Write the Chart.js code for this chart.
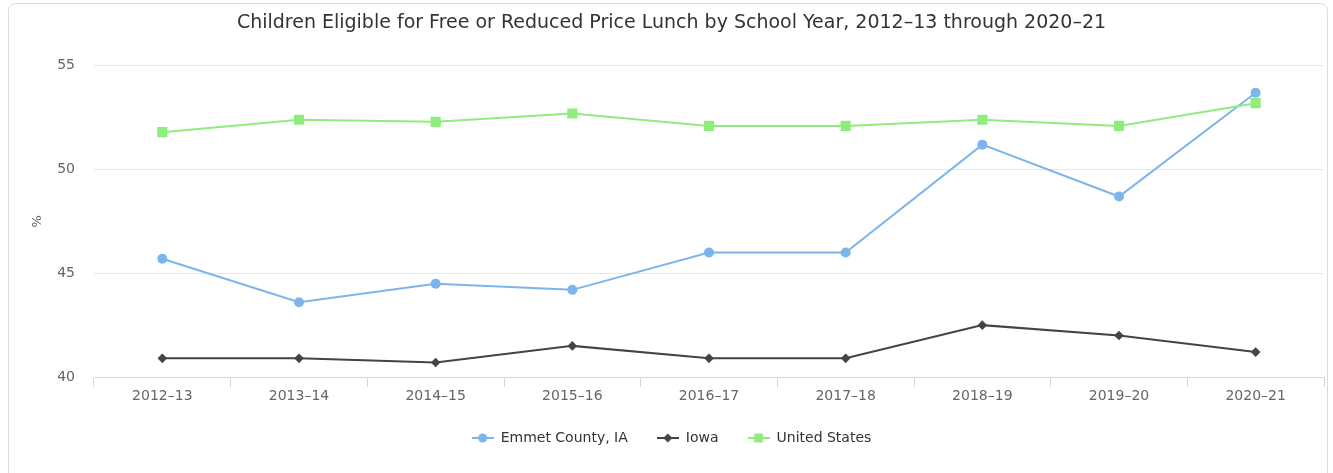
<!DOCTYPE html>
<html>
<head>
<meta charset="utf-8">
<title>Children Eligible for Free or Reduced Price Lunch</title>
<script src="https://cdn.jsdelivr.net/npm/chart.js@4.4.1/dist/chart.umd.min.js"></script>
<style>
  html, body { margin: 0; padding: 0; background: #fff; overflow: hidden; }
  #frame {
    position: absolute; left: 8px; top: 3px; width: 1320px; height: 520px;
    border: 1px solid #dcdcdc; border-radius: 8px; box-sizing: border-box;
  }
  #wrap { position: absolute; left: 0; top: 0; width: 1333px; height: 473px; }
</style>
</head>
<body>
<div id="frame"></div>
<div id="wrap"><canvas id="chart"></canvas></div>
<script>
// School years on the horizontal axis
const categories = ['2012–13', '2013–14', '2014–15', '2015–16', '2016–17', '2017–18', '2018–19', '2019–20', '2020–21'];

// Percent of children eligible for free or reduced price lunch
const emmetCounty = [45.7, 43.6, 44.5, 44.2, 46.0, 46.0, 51.2, 48.7, 53.7];
const iowa = [40.9, 40.9, 40.7, 41.5, 40.9, 40.9, 42.5, 42.0, 41.2];
const unitedStates = [51.8, 52.4, 52.3, 52.7, 52.1, 52.1, 52.4, 52.1, 53.2];

// Value axis ticks
const yTicks = [40, 45, 50, 55];

const seriesNames = ['Emmet County, IA', 'Iowa', 'United States'];
const seriesColors = ['#7cb5ec', '#434348', '#90ed7d'];
const markerStyles = ['circle', 'rectRot', 'rect'];

const FONT = '"DejaVu Sans", "Lucida Grande", sans-serif';

// Small legend symbol: a short line with the series marker in the middle
function legendSymbol(color, style) {
  const c = document.createElement('canvas');
  c.width = 22; c.height = 12;
  const g = c.getContext('2d');
  g.strokeStyle = color; g.lineWidth = 2;
  g.beginPath(); g.moveTo(0, 6); g.lineTo(22, 6); g.stroke();
  g.fillStyle = color;
  g.beginPath();
  if (style === 'circle') {
    g.arc(11, 6, 4.5, 0, Math.PI * 2);
  } else if (style === 'rectRot') {
    g.moveTo(11, 1.5); g.lineTo(15.5, 6); g.lineTo(11, 10.5); g.lineTo(6.5, 6); g.closePath();
  } else {
    g.rect(6.5, 1.5, 9, 9);
  }
  g.fill();
  return c;
}

const symbols = seriesColors.map((c, i) => legendSymbol(c, markerStyles[i]));

function series(name, values, i, radius) {
  return {
    label: name,
    data: values,
    borderColor: seriesColors[i],
    backgroundColor: seriesColors[i],
    borderWidth: 2,
    pointStyle: markerStyles[i],
    pointRadius: radius,
    pointHoverRadius: radius,
    pointBorderWidth: 0,
    tension: 0,
    fill: false,
    order: 3 - i
  };
}

new Chart(document.getElementById('chart'), {
  type: 'line',
  data: {
    labels: categories,
    datasets: [
      series(seriesNames[0], emmetCounty, 0, 5),
      series(seriesNames[1], iowa, 1, 4.8),
      series(seriesNames[2], unitedStates, 2, 7.2)
    ]
  },
  options: {
    responsive: true,
    maintainAspectRatio: false,
    animation: false,
    layout: { padding: { left: 19, right: 9, top: 0, bottom: 18 } },
    plugins: {
      tooltip: { enabled: false },
      title: {
        display: true,
        text: 'Children Eligible for Free or Reduced Price Lunch by School Year, 2012–13 through 2020–21',
        color: '#333333',
        font: { family: FONT, size: 19, weight: 'normal', lineHeight: 1.2 },
        padding: { top: 12, bottom: 31 }
      },
      legend: {
        position: 'bottom',
        labels: {
          usePointStyle: true,
          pointStyleWidth: 22,
          padding: 29,
          color: '#333333',
          font: { family: FONT, size: 14 },
          generateLabels: () => seriesNames.map((name, i) => ({
            text: name,
            fillStyle: seriesColors[i],
            strokeStyle: seriesColors[i],
            fontColor: '#333333',
            lineWidth: 0,
            pointStyle: symbols[i],
            hidden: false,
            datasetIndex: i
          }))
        }
      }
    },
    scales: {
      x: {
        offset: true,
        afterFit: (s) => { s.height = 25; },
        grid: {
          offset: true,
          drawOnChartArea: false,
          drawTicks: true,
          tickLength: 10,
          color: '#ccd6eb',
          lineWidth: 1
        },
        border: { display: true, color: '#ccd6eb', width: 1 },
        ticks: {
          color: '#666666',
          font: { family: FONT, size: 14 },
          padding: 1,
          maxRotation: 0
        }
      },
      y: {
        min: yTicks[0],
        max: yTicks[yTicks.length - 1],
        afterFit: (s) => { s.width = 75; },
        afterBuildTicks: (s) => { s.ticks = yTicks.map(v => ({ value: v })); },
        grid: { color: '#e6e6e6', lineWidth: 1, drawTicks: false },
        border: { display: false },
        ticks: {
          color: '#666666',
          font: { family: FONT, size: 14 },
          padding: 19
        },
        title: {
          display: true,
          text: '%',
          color: '#666666',
          font: { family: FONT, size: 13 },
          padding: { top: 11, bottom: 0 }
        }
      }
    }
  }
});
</script>
</body>
</html>
